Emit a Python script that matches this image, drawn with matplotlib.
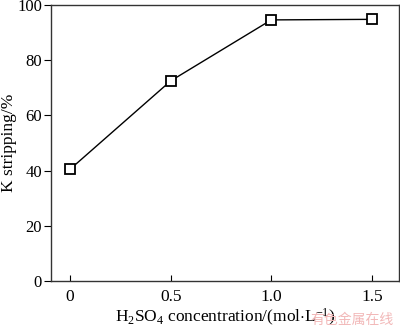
import matplotlib.pyplot as plt

plt.rcParams["font.family"] = ["Liberation Serif", "DejaVu Serif"]
plt.rcParams["mathtext.fontset"] = "custom"
plt.rcParams["mathtext.rm"] = "Liberation Serif"
plt.rcParams["mathtext.it"] = "Liberation Serif:italic"

conc = [0, 0.5, 1.0, 1.5]
k_stripping = [40.5, 72.5, 94.6, 94.8]
xticks = [0, 0.5, 1.0, 1.5]
xtick_labels = ["0", "0.5", "1.0", "1.5"]
yticks = [0, 20, 40, 60, 80, 100]

fig = plt.figure(figsize=(4.0, 3.29), dpi=100)
ax = fig.add_axes([51 / 400, 48 / 329, 348 / 400, 276 / 329])

ax.plot(conc, k_stripping, color="black", linewidth=1.0,
        marker="s", markersize=7, markerfacecolor="white",
        markeredgecolor="black", markeredgewidth=1.3)

ax.set_xlim(-0.095, 1.635)
ax.set_ylim(0, 100)
ax.set_xticks(xticks)
ax.set_xticklabels(xtick_labels)
ax.set_yticks(yticks)

ax.tick_params(axis="x", direction="in", length=4, width=0.8,
               labelsize=12.5, pad=6, colors="black")
ax.tick_params(axis="y", direction="out", length=5, width=0.8,
               labelsize=12, pad=1.5, colors="black")
for side in ax.spines.values():
    side.set_linewidth(1.0)
    side.set_color("#333333")

ax.set_xlabel(r"H$_2$SO$_4$ concentration/(mol$\cdot$L$^{-1}$)",
              fontsize=12.5, labelpad=1)
ax.set_ylabel("K stripping/%", fontsize=12.5, labelpad=0)

fig.text(0.985, 0.005, "有色金属在线", color="#f2b8b8", fontsize=10,
         ha="right", va="bottom", family=["Noto Sans CJK SC", "DejaVu Sans"])

fig.savefig("out.png", dpi=100)
